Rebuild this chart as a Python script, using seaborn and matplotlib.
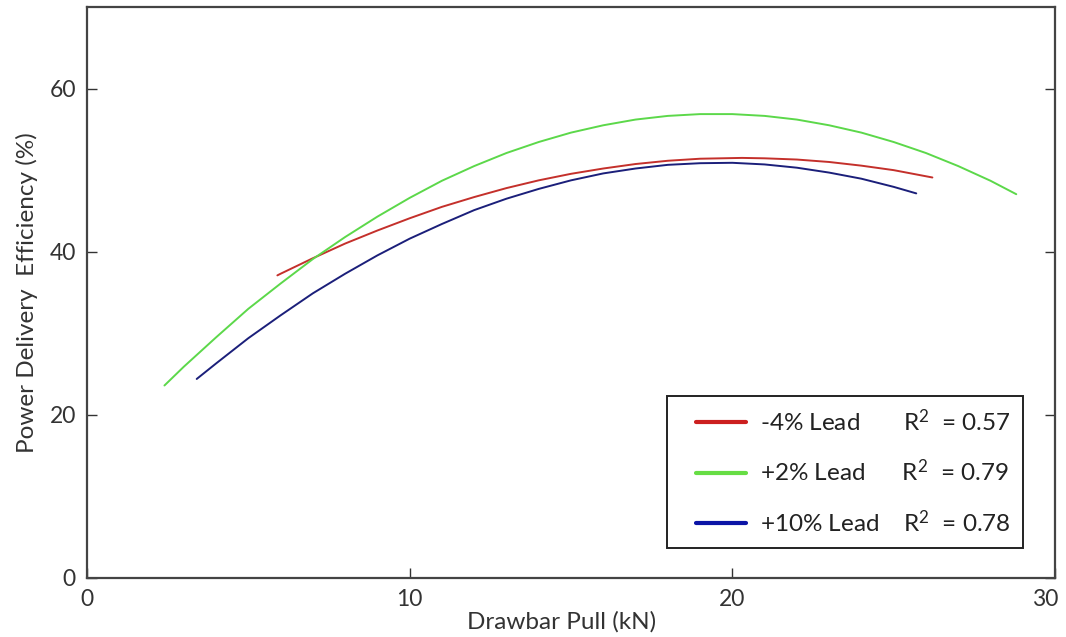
import matplotlib
matplotlib.use("Agg")
import matplotlib.pyplot as plt
import matplotlib.transforms as mtransforms
import seaborn as sns
import pandas as pd
from matplotlib.lines import Line2D
from matplotlib.legend_handler import HandlerLine2D

# ---- data ----
series_names = ["-4% Lead", "+2% Lead", "+10% Lead"]
r2_values = ["0.57", "0.79", "0.78"]

red_x = [5.9, 6, 7, 8, 9, 10, 11, 12, 13, 14, 15, 16, 17, 18, 19, 20.3,
         21, 22, 23, 24, 25, 26.2]
red_y = [37.1, 37.3, 39.2, 41.0, 42.6, 44.1, 45.5, 46.7, 47.8, 48.75, 49.55, 50.2,
         50.75, 51.15, 51.4, 51.5, 51.45, 51.3, 51.0, 50.55, 50.0, 49.1]

green_x = [2.4, 3, 4, 5, 6, 7, 8, 9, 10, 11, 12, 13, 14, 15, 16, 17, 18, 19, 20,
           21, 22, 23, 24, 25, 26, 27, 28, 28.8]
green_y = [23.6, 25.9, 29.5, 33.0, 36.1, 39.1, 41.8, 44.3, 46.6, 48.7, 50.5, 52.1,
           53.45, 54.6, 55.5, 56.2, 56.65, 56.87, 56.87, 56.65, 56.2, 55.5, 54.6,
           53.45, 52.1, 50.5, 48.7, 47.05]

blue_x = [3.4, 4, 5, 6, 7, 8, 9, 10, 11, 12, 13, 14, 15, 16, 17, 18, 19, 20,
          21, 22, 23, 24, 25, 25.7]
blue_y = [24.4, 26.3, 29.4, 32.2, 34.9, 37.3, 39.55, 41.6, 43.4, 45.1, 46.5, 47.7,
          48.75, 49.6, 50.2, 50.65, 50.85, 50.9, 50.7, 50.3, 49.7, 48.95, 47.95, 47.15]

x_ticks = [0, 10, 20, 30]
y_ticks = [0, 20, 40, 60]

curve_colors = ["#c4302b", "#5cd84a", "#1b1f7a"]
legend_colors = ["#cc1f1f", "#66dd44", "#0b14a6"]

frames = []
for name, xs, ys in zip(series_names, [red_x, green_x, blue_x], [red_y, green_y, blue_y]):
    frames.append(pd.DataFrame({"x": xs, "y": ys, "series": name}))
df = pd.concat(frames, ignore_index=True)

sns.set_theme(style="white")
plt.rcParams["font.family"] = ["Lato", "DejaVu Sans"]
plt.rcParams["mathtext.fontset"] = "custom"
plt.rcParams["mathtext.rm"] = "Lato"
plt.rcParams["mathtext.it"] = "Lato"

fig = plt.figure(figsize=(10.66, 6.37), dpi=100)
ax = fig.add_axes([87 / 1066, 1 - 578 / 637, (1055 - 87) / 1066, (578 - 7) / 637])

sns.lineplot(data=df, x="x", y="y", hue="series", hue_order=series_names,
             palette=dict(zip(series_names, curve_colors)), sort=False,
             estimator=None, linewidth=1.4, ax=ax, legend=False)

ax.set_xlim(0, 30)
ax.set_ylim(0, 70)
ax.set_xticks(x_ticks)
ax.set_yticks(y_ticks)
ax.tick_params(axis="both", direction="in", length=7, width=1.0, color="#333333",
               labelsize=16.5, labelcolor="#333333")
ax.tick_params(axis="y", right=True, left=True, pad=8)
ax.tick_params(axis="x", bottom=True, top=False, pad=8)
for sp in ax.spines.values():
    sp.set_color("#444444")
    sp.set_linewidth(1.6)

# nudge the last x tick label inside the figure like the reference
last_lbl = ax.get_xticklabels()[-1]
last_lbl.set_transform(last_lbl.get_transform() +
                       mtransforms.ScaledTranslation(-10 / 100, 0, fig.dpi_scale_trans))

ax.set_xlabel("Drawbar Pull (kN)", fontsize=17.5, color="#333333", labelpad=1)
ax.xaxis.label.set_x(0.49)
ax.set_ylabel("Power Delivery  Efficiency (%)", fontsize=17.5, color="#333333", labelpad=8)

# legend: name column + aligned R² column (pad with spaces)
renderer = fig.canvas.get_renderer()
fsize = 17.5
widths = []
for nm in series_names:
    t = fig.text(0, 0, nm, fontsize=fsize)
    widths.append(t.get_window_extent(renderer).width)
    t.remove()
t = fig.text(0, 0, "a a", fontsize=fsize)
w2 = t.get_window_extent(renderer).width
t.remove()
t = fig.text(0, 0, "aa", fontsize=fsize)
w1 = t.get_window_extent(renderer).width
t.remove()
space_w = max(w2 - w1, 1)
target = max(widths) + 23
labels = []
for nm, w, r2 in zip(series_names, widths, r2_values):
    n = max(1, int(round((target - w) / space_w)))
    labels.append(nm + " " * n + r"R$^2$  = " + r2)

handles = [Line2D([0], [0], color=c, linewidth=3) for c in legend_colors]
hmap = {h: HandlerLine2D(numpoints=2, marker_pad=0.69) for h in handles}
leg = ax.legend(handles, labels, loc="lower right", bbox_to_anchor=(0.967, 0.0525),
                fontsize=fsize, frameon=True, fancybox=False, framealpha=1,
                edgecolor="#222222", handlelength=3.44, handletextpad=-0.11,
                labelspacing=0.99, borderpad=0.5, borderaxespad=0, handler_map=hmap)
leg.get_frame().set_linewidth(1.4)
for t in leg.get_texts():
    t.set_color("#222222")

fig.savefig("out.png", dpi=100, facecolor="white")
